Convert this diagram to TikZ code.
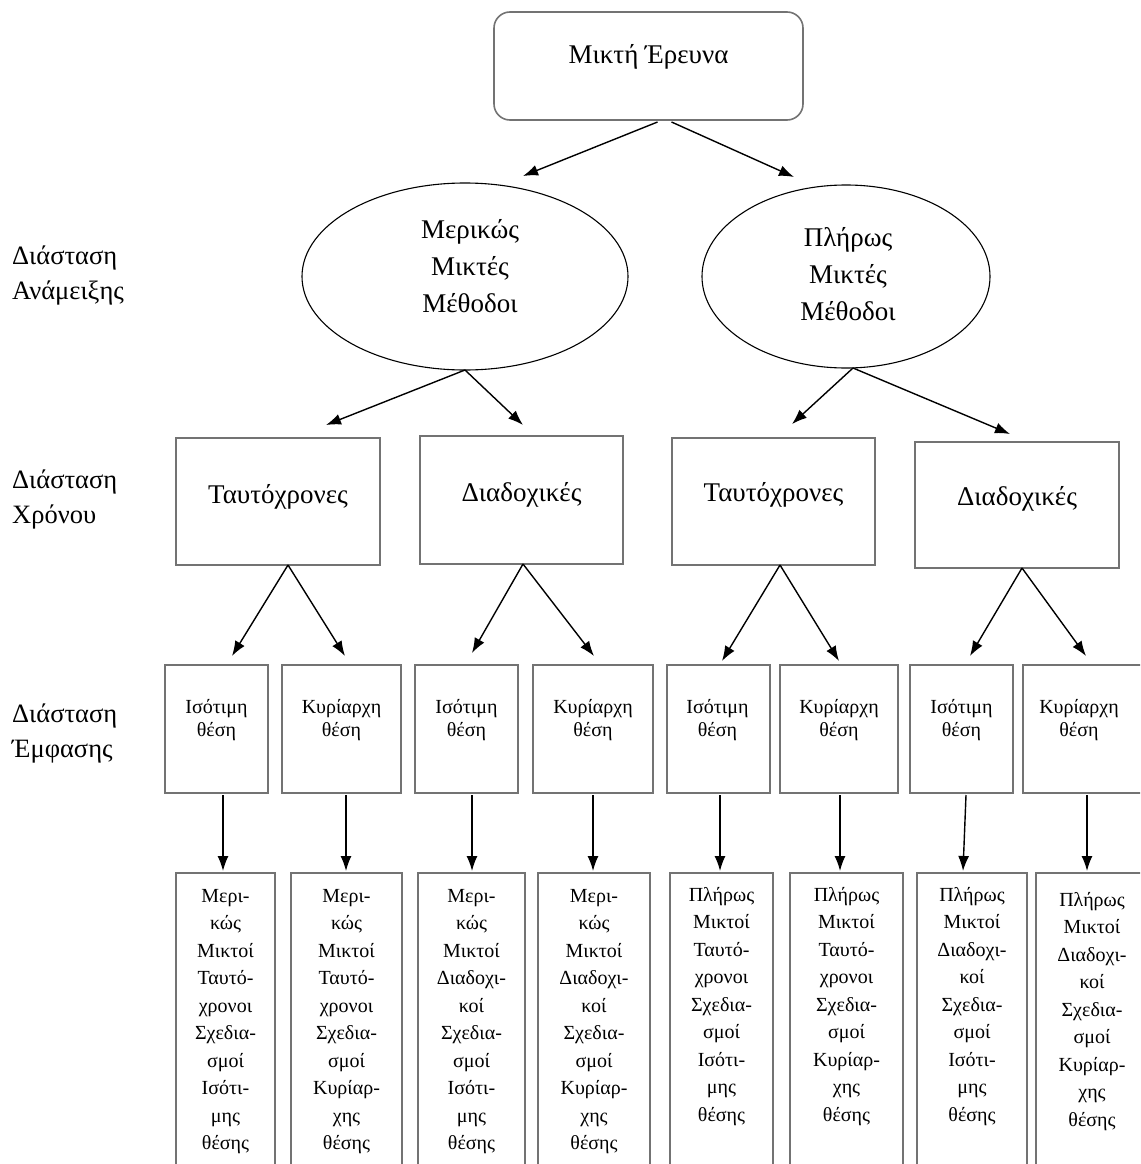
\documentclass[tikz,border=0pt]{standalone}
\usepackage{fontspec}
\setmainfont{Liberation Serif}
\usetikzlibrary{arrows.meta,shapes.geometric}
\begin{document}
\begin{tikzpicture}[x=1pt,y=-1pt,
  bx/.style={draw=black!55,line width=1.6pt,rectangle,inner sep=0pt,outer sep=0pt,anchor=north west},
  el/.style={draw=black,line width=1.1pt,ellipse,inner sep=0pt,outer sep=0pt},
  arr/.style={line width=1.4pt,-{Latex[length=15pt,width=11pt]}},
  fA/.style={font=\fontsize{27pt}{37pt}\selectfont},
  fL/.style={font=\fontsize{26.5pt}{35pt}\selectfont},
  fS/.style={font=\fontsize{20pt}{23pt}\selectfont},
  fT/.style={font=\fontsize{20pt}{27.5pt}\selectfont},
  lab/.style={anchor=north,inner sep=0pt,align=center},
]
\useasboundingbox (0,0) rectangle (1140,1164);
\clip (0,0) rectangle (1140,1164);

% left labels
\node[fL,anchor=north west,inner sep=0pt,align=left] (d1) at (12,246) {Διάσταση\\Ανάμειξης};
\node[fL,anchor=north west,inner sep=0pt,align=left] (d2) at (12,470) {Διάσταση\\Χρόνου};
\node[fL,anchor=north west,inner sep=0pt,align=left] (d3) at (12,704) {Διάσταση\\Έμφασης};

% top
\node[bx,rounded corners=16pt,minimum width=309pt,minimum height=108pt,
  label={[lab,fA,yshift=-32pt]north:Μικτή Έρευνα}] (top) at (494,12) {};

% ellipses
\node[el,minimum width=326pt,minimum height=187pt,
  label={[lab,fA,xshift=5pt,yshift=-36pt]north:Μερικώς\\Μικτές\\Μέθοδοι}] (e1) at (465,276.5) {};
\node[el,minimum width=288pt,minimum height=183pt,
  label={[lab,fA,xshift=2pt,yshift=-42pt]north:Πλήρως\\Μικτές\\Μέθοδοι}] (e2) at (846,276.5) {};

% row 2
\node[bx,minimum width=204pt,minimum height=127pt,label={[lab,fA,yshift=-46pt]north:Ταυτόχρονες}] (tA) at (176,438) {};
\node[bx,minimum width=203pt,minimum height=128pt,label={[lab,fA,yshift=-46pt]north:Διαδοχικές}] (tB) at (420,436) {};
\node[bx,minimum width=203pt,minimum height=127pt,label={[lab,fA,yshift=-44pt]north:Ταυτόχρονες}] (tC) at (672,438) {};
\node[bx,minimum width=204pt,minimum height=126pt,label={[lab,fA,yshift=-44pt]north:Διαδοχικές}] (tD) at (915,442) {};

% row 3
\node[bx,minimum width=103pt,minimum height=128pt,label={[lab,fS,yshift=-34pt]north:Ισότιμη\\θέση}] (r31) at (165,665) {};
\node[bx,minimum width=119pt,minimum height=128pt,label={[lab,fS,yshift=-34pt]north:Κυρίαρχη\\θέση}] (r32) at (282,665) {};
\node[bx,minimum width=103pt,minimum height=128pt,label={[lab,fS,yshift=-34pt]north:Ισότιμη\\θέση}] (r33) at (415,665) {};
\node[bx,minimum width=120pt,minimum height=128pt,label={[lab,fS,yshift=-34pt]north:Κυρίαρχη\\θέση}] (r34) at (533,665) {};
\node[bx,minimum width=103pt,minimum height=128pt,label={[lab,fS,xshift=-1pt,yshift=-34pt]north:Ισότιμη\\θέση}] (r35) at (667,665) {};
\node[bx,minimum width=118pt,minimum height=128pt,label={[lab,fS,yshift=-34pt]north:Κυρίαρχη\\θέση}] (r36) at (780,665) {};
\node[bx,minimum width=103pt,minimum height=128pt,label={[lab,fS,yshift=-34pt]north:Ισότιμη\\θέση}] (r37) at (910,665) {};
\node[bx,minimum width=130pt,minimum height=128pt,label={[lab,fS,xshift=-9pt,yshift=-34pt]north:Κυρίαρχη\\θέση}] (r38) at (1023,665) {};

% row 4
\node[bx,minimum width=99pt,minimum height=310pt,label={[lab,fT,yshift=-16pt]north:Μερι-\\κώς\\Μικτοί\\Ταυτό-\\χρονοι\\Σχεδια-\\σμοί\\Ισότι-\\μης\\θέσης}] (r41) at (176,873) {};
\node[bx,minimum width=111pt,minimum height=310pt,label={[lab,fT,yshift=-16pt]north:Μερι-\\κώς\\Μικτοί\\Ταυτό-\\χρονοι\\Σχεδια-\\σμοί\\Κυρίαρ-\\χης\\θέσης}] (r42) at (291,873) {};
\node[bx,minimum width=107pt,minimum height=310pt,label={[lab,fT,yshift=-16pt]north:Μερι-\\κώς\\Μικτοί\\Διαδοχι-\\κοί\\Σχεδια-\\σμοί\\Ισότι-\\μης\\θέσης}] (r43) at (418,873) {};
\node[bx,minimum width=112pt,minimum height=310pt,label={[lab,fT,yshift=-16pt]north:Μερι-\\κώς\\Μικτοί\\Διαδοχι-\\κοί\\Σχεδια-\\σμοί\\Κυρίαρ-\\χης\\θέσης}] (r44) at (538,873) {};
\node[bx,minimum width=103pt,minimum height=310pt,label={[lab,fT,yshift=-14pt]north:Πλήρως\\Μικτοί\\Ταυτό-\\χρονοι\\Σχεδια-\\σμοί\\Ισότι-\\μης\\θέσης}] (r45) at (670,873) {};
\node[bx,minimum width=113pt,minimum height=310pt,label={[lab,fT,yshift=-14pt]north:Πλήρως\\Μικτοί\\Ταυτό-\\χρονοι\\Σχεδια-\\σμοί\\Κυρίαρ-\\χης\\θέσης}] (r46) at (790,873) {};
\node[bx,minimum width=110pt,minimum height=310pt,label={[lab,fT,yshift=-14pt]north:Πλήρως\\Μικτοί\\Διαδοχι-\\κοί\\Σχεδια-\\σμοί\\Ισότι-\\μης\\θέσης}] (r47) at (917,873) {};
\node[bx,minimum width=120pt,minimum height=310pt,label={[lab,fT,xshift=-4pt,yshift=-19pt]north:Πλήρως\\Μικτοί\\Διαδοχι-\\κοί\\Σχεδια-\\σμοί\\Κυρίαρ-\\χης\\θέσης}] (r48) at (1036,873) {};

% arrow tips
\coordinate (p1) at (523,176);
\coordinate (p2) at (794,177);
\coordinate (pA) at (326,425);
\coordinate (pB) at (523,425);
\coordinate (pC) at (792,424);
\coordinate (pD) at (1010,434);
\coordinate (q1) at (232,656);
\coordinate (q2) at (345,656);
\coordinate (q3) at (472,653);
\coordinate (q4) at (594,656);
\coordinate (q5) at (722,661);
\coordinate (q6) at (839,661);
\coordinate (q7) at (970,656);
\coordinate (q8) at (1086,656);
\coordinate (v1) at (223,871);
\coordinate (v2) at (346,871);
\coordinate (v3) at (472,871);
\coordinate (v4) at (593,871);
\coordinate (v5) at (720,871);
\coordinate (v6) at (840,871);
\coordinate (v7) at (963,871);
\coordinate (v8) at (1087,871);

% connectors
\draw[arr] ([xshift=9pt,yshift=-2pt]top.south) -- (p1);
\draw[arr] ([xshift=23pt,yshift=-2pt]top.south) -- (p2);
\draw[arr] (e1.south) -- (pA);
\draw[arr] (e1.south) -- (pB);
\draw[arr] ([xshift=7pt]e2.south) -- (pC);
\draw[arr] ([xshift=7pt]e2.south) -- (pD);
\draw[arr] ([xshift=10pt]tA.south) -- (q1);
\draw[arr] ([xshift=10pt]tA.south) -- (q2);
\draw[arr] ([xshift=1.5pt]tB.south) -- (q3);
\draw[arr] ([xshift=1.5pt]tB.south) -- (q4);
\draw[arr] ([xshift=6.5pt]tC.south) -- (q5);
\draw[arr] ([xshift=6.5pt]tC.south) -- (q6);
\draw[arr] ([xshift=5pt]tD.south) -- (q7);
\draw[arr] ([xshift=5pt]tD.south) -- (q8);
\draw[arr] ([yshift=-2pt]r31.south -| v1) -- (v1);
\draw[arr] ([yshift=-2pt]r32.south -| v2) -- (v2);
\draw[arr] ([yshift=-2pt]r33.south -| v3) -- (v3);
\draw[arr] ([yshift=-2pt]r34.south -| v4) -- (v4);
\draw[arr] ([yshift=-2pt]r35.south -| v5) -- (v5);
\draw[arr] ([yshift=-2pt]r36.south -| v6) -- (v6);
\draw[arr] ([yshift=-2pt,xshift=3pt]r37.south -| v7) -- (v7);
\draw[arr] ([yshift=-2pt]r38.south -| v8) -- (v8);
\end{tikzpicture}
\end{document}
